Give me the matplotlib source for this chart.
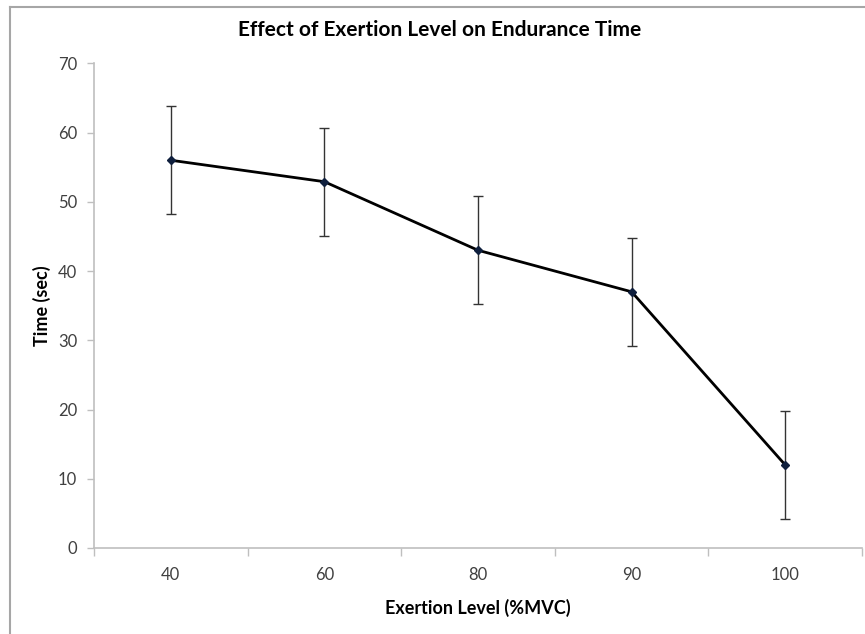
import numpy as np
import matplotlib
matplotlib.use("Agg")
import matplotlib.pyplot as plt
from matplotlib.lines import Line2D

plt.rcParams['font.family'] = ['Lato', 'DejaVu Sans']

levels = ["40", "60", "80", "90", "100"]
times = [56.0, 52.9, 43.0, 37.0, 12.0]
errors = [7.8, 7.8, 7.8, 7.8, 7.8]

fig = plt.figure(figsize=(8.65, 6.34), dpi=100)
ax = fig.add_axes([94/865, 1-548/634, (862-94)/865, (548-63.3)/634])

x = np.arange(len(levels))
ax.errorbar(x, times, yerr=errors, fmt='none', ecolor='#333333', elinewidth=1.0,
            capsize=3.5, capthick=1.0, zorder=2)
ax.plot(x, times, color='black', linewidth=2.0, marker='D', markersize=4.5,
        markerfacecolor='#0f1f3d', markeredgecolor='#0f1f3d', zorder=3)

ax.set_xlim(-0.5, len(levels)-0.5)
ax.set_ylim(0, 70)
ax.set_yticks(np.arange(0, 71, 10))
ax.set_xticks(x)
ax.set_xticklabels(levels)
ax.set_xticks(np.arange(-0.5, len(levels), 1), minor=True)
ax.tick_params(axis='x', which='major', length=0, pad=14, labelsize=12, labelcolor='#404040')
ax.tick_params(axis='x', which='minor', length=6, width=1, color='#bfbfbf', direction='out')
ax.tick_params(axis='y', length=5, width=1, color='#bfbfbf', direction='out', pad=7,
               labelsize=12, labelcolor='#404040')

for s in ['top', 'right']:
    ax.spines[s].set_visible(False)
for s in ['left', 'bottom']:
    ax.spines[s].set_color('#bfbfbf')
    ax.spines[s].set_linewidth(1.2)

ax.set_xlabel("Exertion Level (%MVC)", fontsize=13, fontweight='bold', labelpad=11)
ax.set_ylabel("Time (sec)", fontsize=13, fontweight='bold', labelpad=5)
fig.text(440/865, 1-30/634, "Effect of Exertion Level on Endurance Time",
         ha='center', va='center', fontsize=15, fontweight='bold')

# outer chart border (left and top edges visible)
fig.add_artist(Line2D([10/865, 10/865], [0, 1-7/634], color='#a6a6a6', linewidth=1.5,
                      transform=fig.transFigure))
fig.add_artist(Line2D([10/865, 1], [1-7/634, 1-7/634], color='#a6a6a6', linewidth=1.5,
                      transform=fig.transFigure))

fig.savefig("out.png", dpi=100)
